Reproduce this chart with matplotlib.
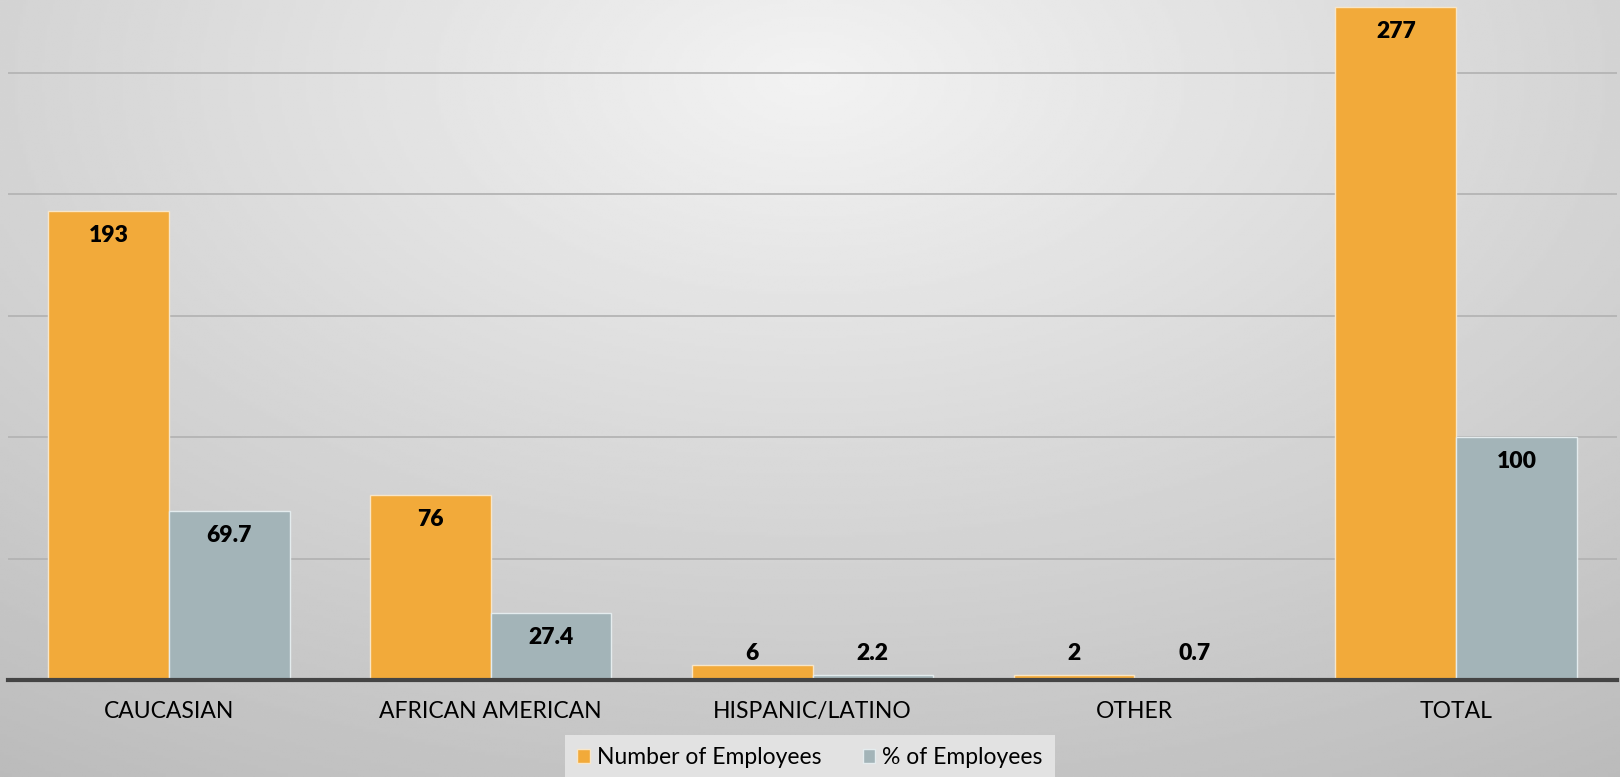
import matplotlib.pyplot as plt
import numpy as np

categories = ["CAUCASIAN", "AFRICAN AMERICAN", "HISPANIC/LATINO", "OTHER", "TOTAL"]
num_employees = [193, 76, 6, 2, 277]
pct_employees = [69.7, 27.4, 2.2, 0.7, 100]

orange = "#F2AA3A"
grey = "#A3B4B8"

plt.rcParams["font.family"] = ["Lato", "DejaVu Sans"]

fig = plt.figure(figsize=(16.2, 7.77), dpi=100)

# radial background, brightest near the top middle
bg = fig.add_axes([0, 0, 1, 1], zorder=-10)
yy, xx = np.mgrid[0:1:300j, 0:1:600j]
r = np.sqrt(((xx - 0.5) / 0.75) ** 2 + ((yy - 0.1) / 0.9) ** 2)
shade = 0.95 - 0.18 * np.clip(r, 0, 1.2)
bg.imshow(shade, cmap="gray", vmin=0, vmax=1, aspect="auto", extent=[0, 1, 1, 0])
bg.axis("off")

ax = fig.add_axes([8 / 1620, 1 - 680 / 777, 1609 / 1620, 680 / 777])
ax.patch.set_alpha(0)

x = np.arange(len(categories))
w = 0.375
b1 = ax.bar(x - w / 2, num_employees, w, color=orange, edgecolor="#f8e6c8",
            linewidth=1, label="Number of Employees", zorder=3)
b2 = ax.bar(x + w / 2, pct_employees, w, color=grey, edgecolor="#e4ecee",
            linewidth=1, label="% of Employees", zorder=3)

ax.set_xlim(-0.5, len(categories) - 0.5)
ax.set_ylim(0, 280)
ax.set_yticks([50, 100, 150, 200, 250])
ax.yaxis.grid(True, color="#b4b4b4", linewidth=1.3, zorder=0)
ax.tick_params(axis="y", left=False, labelleft=False)
ax.tick_params(axis="x", length=0, labelsize=16.5, pad=15)
ax.set_xticks(x)
ax.set_xticklabels(categories)
for s in ["top", "right", "left"]:
    ax.spines[s].set_visible(False)
ax.spines["bottom"].set_color("#444444")
ax.spines["bottom"].set_linewidth(3)
ax.spines["bottom"].set_zorder(4)

# value labels: inside the top of tall bars, just above the axis for short ones
for bars, vals in [(b1, num_employees), (b2, pct_employees)]:
    for bar, v in zip(bars, vals):
        cx = bar.get_x() + bar.get_width() / 2
        if v > 20:
            ax.annotate(f"{v:g}", (cx, v), xytext=(0, -17.5), textcoords="offset points",
                        ha="center", va="center", fontsize=16.5, fontweight="heavy", zorder=5)
        else:
            ax.annotate(f"{v:g}", (cx, 0), xytext=(0, 19), textcoords="offset points",
                        ha="center", va="center", fontsize=16.5, fontweight="heavy", zorder=5)

leg = fig.legend(loc="lower center", bbox_to_anchor=(0.5, -0.014), ncol=2,
                 fontsize=16.5, frameon=True, fancybox=False, handlelength=0.55,
                 handleheight=0.55, handletextpad=0.3, columnspacing=1.8,
                 borderpad=0.55, borderaxespad=0.3)
leg.get_frame().set_facecolor("#e2e2e2")
leg.get_frame().set_edgecolor("none")
leg.get_frame().set_alpha(1)

fig.savefig("out.png", dpi=100)
